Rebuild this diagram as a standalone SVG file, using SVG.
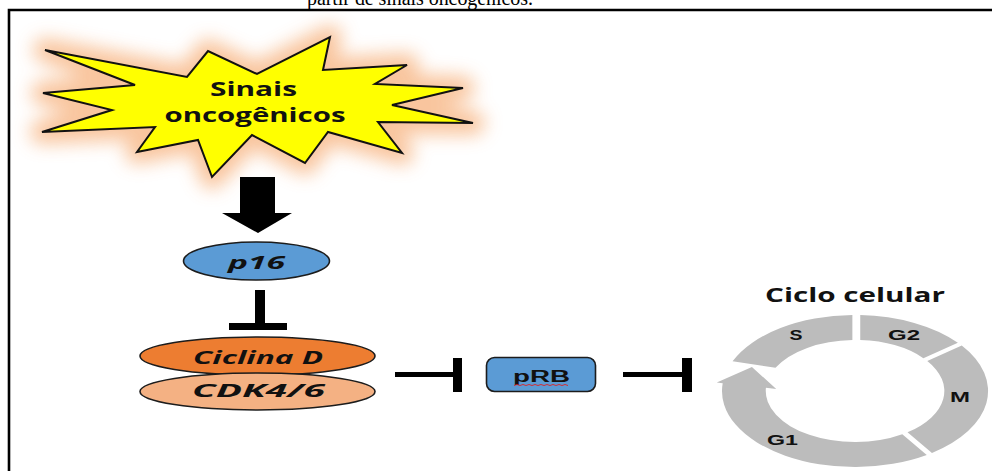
<svg xmlns="http://www.w3.org/2000/svg" width="992" height="471" viewBox="0 0 992 471">
<style>
.cal{font-family:"Open Sans","Liberation Sans",sans-serif;font-weight:bold;fill:#111}
.ari{font-family:"Liberation Sans",Arial,sans-serif;font-weight:bold;fill:#111}
.it{font-style:italic}
.node{stroke:#1c1c1c;stroke-width:1.6}
.seg{fill:#BCBCBC}
.bar{fill:#000}
</style>
<defs>
<filter id="glow" x="-25%" y="-50%" width="150%" height="200%"><feGaussianBlur stdDeviation="9"/></filter>
<path id="starShape" d="M45,50 L187,77 L208,51 L257,74 L330,37 L323,70 L407,65 L375,84 L463,88 L392,105 L473,123 L378,122 L402,153 L328,132 L305,163 L252,135 L212,177 L198,140 L137,152 L155,127 L42,132 L112,110 L43,93 L135,85 Z"/>
</defs>
<rect width="992" height="471" fill="#fff"/>
<text x="307" y="5" font-family="Liberation Serif,'Times New Roman',serif" font-size="20" textLength="226" fill="#000">partir de sinais oncogênicos.</text>
<path d="M9,471 L9,10 L992,10" fill="none" stroke="#000" stroke-width="2.6"/>

<g id="sinais">
<use href="#starShape" fill="#F8BC8E" stroke="#F8BC8E" stroke-width="24" stroke-linejoin="round" filter="url(#glow)" opacity="0.85"/>
<use href="#starShape" fill="#FFFF00" stroke="#111" stroke-width="2"/>
<text class="cal" x="253.5" y="96" font-size="20" text-anchor="middle" textLength="87" lengthAdjust="spacingAndGlyphs">Sinais</text>
<text class="cal" x="255" y="122" font-size="20" text-anchor="middle" textLength="181" lengthAdjust="spacingAndGlyphs">oncogênicos</text>
</g>

<g id="p16">
<ellipse class="node" cx="256.5" cy="261" rx="73" ry="19" fill="#5B9BD5"/>
<text class="cal it" x="256.5" y="269" font-size="18" text-anchor="middle" textLength="57" lengthAdjust="spacingAndGlyphs">p16</text>
</g>

<g id="ciclinaD">
<ellipse class="node" cx="257.5" cy="356" rx="117.5" ry="19" fill="#ED7D31"/>
<text class="cal it" x="258" y="364" font-size="18" text-anchor="middle" textLength="130" lengthAdjust="spacingAndGlyphs">Ciclina D</text>
</g>

<g id="cdk46">
<ellipse class="node" cx="257.5" cy="391.5" rx="117.5" ry="18.5" fill="#F4B183"/>
<text class="cal it" x="258.5" y="397" font-size="18" text-anchor="middle" textLength="133" lengthAdjust="spacingAndGlyphs">CDK4/6</text>
</g>

<g id="pRB">
<rect class="node" x="486.5" y="357.5" width="109" height="34" rx="8" fill="#5B9BD5"/>
<text class="ari" x="541.5" y="382" font-size="16" text-anchor="middle" textLength="57" lengthAdjust="spacingAndGlyphs">pRB</text>
<path d="M514,385.5 l3,-1 l3,1 l3,-1 l3,1 l3,-1 l3,1 l3,-1 l3,1 l3,-1 l3,1 l3,-1 l3,1 l3,-1 l3,1 l3,-1 l3,1 l3,-1 l3,1" fill="none" stroke="#E02020" stroke-width="0.9"/>
</g>

<g id="cicloCelular">
<text class="cal" x="855" y="302" font-size="19" text-anchor="middle" textLength="180" lengthAdjust="spacingAndGlyphs">Ciclo celular</text>
<g transform="translate(855,391) scale(1.75,1)">
<path class="seg" d="M-69.96,-29.69 A76,76 0 0 1 -1.5,-75.98 L-1.5,-50.98 A51,51 0 0 0 -45.44,-23.15 Z"/>
<path class="seg" d="M3,-75.94 A76,76 0 0 1 58.78,-48.24 L39.08,-32.84 A51,51 0 0 0 3,-50.91 Z"/>
<path class="seg" d="M61,-45.4 A76,76 0 0 1 43.99,61.99 L30.01,41.27 A51,51 0 0 0 41.3,-30 Z"/>
<path class="seg" d="M41.01,64.01 A76,76 0 0 1 -75.6,-7.85 L-79,-8.5 L-58.9,-24 L-45,-2 L-50.9,-3.13 A51,51 0 0 0 27.03,43.29 Z"/>
</g>
<text class="ari" x="796" y="340" font-size="15" text-anchor="middle" textLength="13" lengthAdjust="spacingAndGlyphs">S</text>
<text class="ari" x="904" y="340" font-size="15" text-anchor="middle" textLength="32" lengthAdjust="spacingAndGlyphs">G2</text>
<text class="ari" x="960" y="402" font-size="15" text-anchor="middle" textLength="20" lengthAdjust="spacingAndGlyphs">M</text>
<text class="ari" x="782.5" y="445" font-size="15" text-anchor="middle" textLength="31" lengthAdjust="spacingAndGlyphs">G1</text>
</g>

<g id="connectors">
<path class="bar" d="M240,177 L275,177 L275,213 L292,213 L258,233 L222,213 L240,213 Z"/>
<rect class="bar" x="255" y="290" width="10" height="35"/>
<rect class="bar" x="229" y="323" width="58" height="7"/>
<rect class="bar" x="395" y="372" width="60" height="5"/>
<rect class="bar" x="453" y="358" width="9" height="34"/>
<rect class="bar" x="623" y="372" width="61" height="5"/>
<rect class="bar" x="682" y="358" width="10" height="34"/>
</g>
</svg>
